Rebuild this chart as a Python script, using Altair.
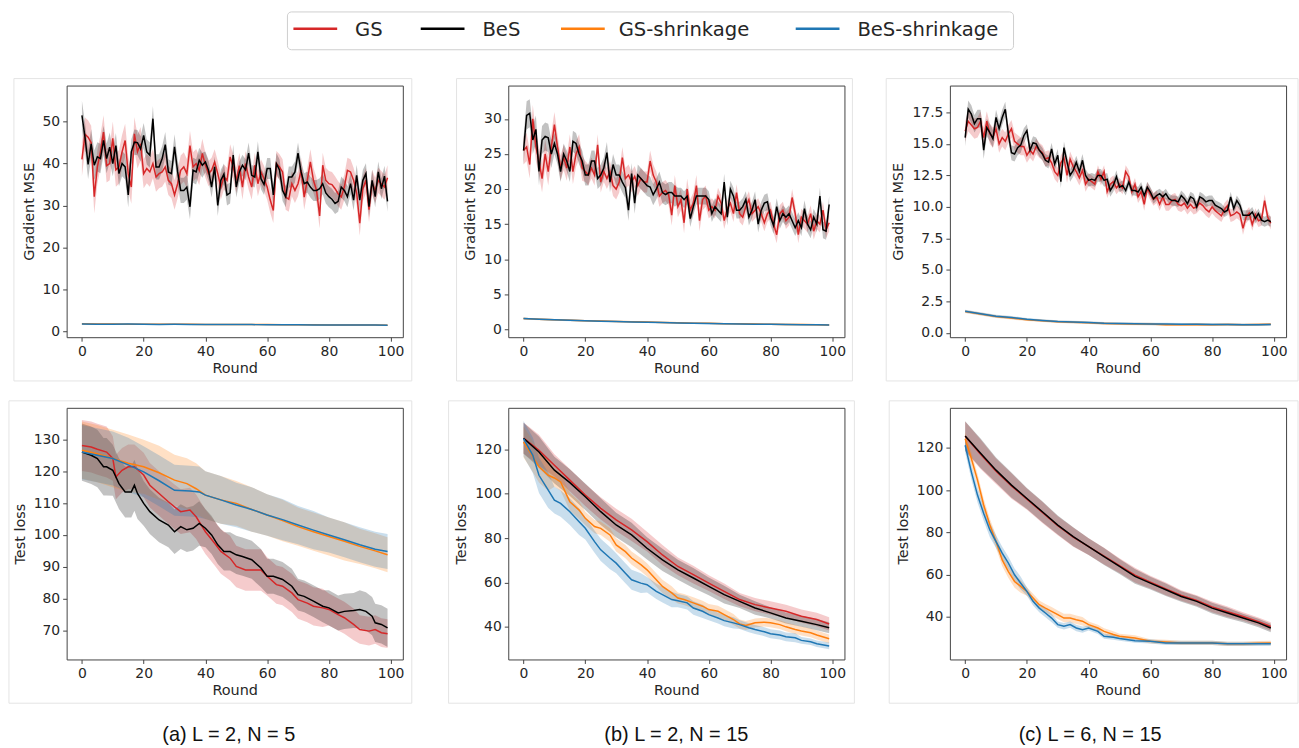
import altair as alt
import pandas as pd

# ---------------- data ----------------
SERIES = ["GS", "BeS", "GS-shrinkage", "BeS-shrinkage"]
COLORS = ["#d62728", "#000000", "#ff7f0e", "#1f77b4"]
CAPTIONS = ["(a) L = 2, N = 5", "(b) L = 2, N = 15", "(c) L = 6, N = 15"]
Y_TITLES = ["Gradient MSE", "Test loss"]
X_TICKS = [0, 20, 40, 60, 80, 100]

ROUNDS = list(range(100))
R5 = [0, 5, 10, 15, 20, 25, 30, 35, 40, 45, 50, 55, 60, 65, 70, 75, 80, 85, 90, 95, 99]

# --- top row: gradient MSE ---
A1_GS = [41.0, 47.0, 46.3, 45.0, 32.1, 39.2, 42.8, 47.5, 39.5, 40.0,
         46.0, 38.5, 39.2, 42.8, 45.5, 37.6, 34.4, 47.1, 42.8, 44.7,
         37.6, 38.8, 38.0, 40.0, 36.8, 37.6, 38.0, 39.2, 36.0, 35.2,
         32.5, 35.2, 38.4, 39.2, 37.6, 44.3, 39.2, 40.0, 38.4, 42.4,
         39.6, 37.6, 38.4, 40.4, 37.6, 34.4, 36.8, 36.0, 41.6, 39.2,
         36.0, 39.5, 34.4, 40.0, 36.8, 34.4, 39.6, 35.2, 38.0, 36.4,
         34.4, 31.3, 28.8, 40.0, 39.2, 38.0, 32.0, 31.5, 35.2, 33.6,
         35.2, 38.4, 32.0, 36.0, 40.4, 36.0, 33.6, 27.5, 39.6, 36.0,
         35.2, 35.0, 34.0, 32.8, 32.0, 34.4, 38.4, 38.0, 36.0, 33.0,
         25.8, 34.0, 36.0, 29.0, 35.5, 33.6, 36.0, 35.2, 34.4, 36.6]
A1_BES = [51.5, 46.3, 39.8, 44.7, 39.6, 41.6, 41.2, 45.5, 41.2, 43.9,
          40.0, 44.3, 37.6, 40.0, 39.2, 32.5, 42.8, 45.1, 45.0, 43.5,
          46.7, 42.8, 42.0, 50.7, 39.2, 39.2, 41.2, 44.5, 38.0, 37.6,
          44.0, 38.0, 33.6, 33.6, 34.4, 29.7, 38.4, 38.0, 40.8, 39.6,
          40.4, 38.4, 34.4, 39.2, 30.0, 36.0, 37.5, 32.5, 33.0, 42.0,
          34.4, 38.0, 39.6, 38.5, 42.5, 37.2, 36.8, 42.8, 36.4, 35.0,
          38.8, 38.8, 32.5, 40.0, 38.5, 33.6, 32.1, 36.8, 36.8, 38.0,
          42.5, 38.0, 35.2, 35.6, 34.4, 33.6, 33.6, 34.0, 35.2, 33.0,
          32.1, 31.5, 30.5, 31.0, 34.4, 33.6, 32.1, 35.2, 31.3, 37.2,
          31.3, 36.0, 37.6, 29.7, 36.0, 32.1, 38.0, 34.0, 37.0, 31.0]
A1_GSS = [1.80, 1.75, 1.75, 1.70, 1.70, 1.70, 1.68, 1.68, 1.65, 1.65, 1.62,
          1.60, 1.60, 1.58, 1.55, 1.55, 1.52, 1.50, 1.50, 1.48, 1.45]
A1_BESS = [1.75, 1.70, 1.70, 1.72, 1.70, 1.65, 1.68, 1.65, 1.62, 1.62, 1.60,
           1.60, 1.58, 1.55, 1.55, 1.52, 1.50, 1.50, 1.50, 1.48, 1.45]

B1_GS = [25.5, 26.0, 23.5, 30.0, 26.0, 24.0, 21.5, 25.0, 22.5, 26.0,
         29.2, 26.0, 23.0, 24.5, 23.0, 26.0, 22.5, 25.0, 26.0, 23.0,
         22.5, 22.0, 23.0, 22.0, 26.3, 21.0, 22.5, 21.5, 22.5, 20.5,
         20.0, 21.0, 24.5, 21.5, 22.0, 21.0, 21.8, 20.5, 21.5, 21.0,
         21.0, 24.0, 22.0, 21.0, 19.0, 19.5, 19.8, 19.2, 16.3, 20.5,
         17.5, 18.5, 15.2, 20.0, 17.0, 18.0, 20.5, 15.5, 18.5, 19.0,
         17.0, 17.5, 17.0, 19.0, 18.0, 15.5, 17.2, 18.0, 16.5, 19.5,
         16.5, 16.0, 17.5, 18.5, 16.5, 17.0, 17.5, 16.5, 15.2, 16.5,
         17.0, 15.0, 13.5, 16.5, 17.0, 15.5, 16.0, 18.8, 16.5, 13.5,
         16.0, 15.5, 15.0, 16.5, 14.0, 15.5, 15.0, 17.0, 14.2, 15.2]
B1_BES = [25.5, 30.5, 30.8, 27.0, 28.5, 22.5, 27.0, 27.5, 27.3, 25.0,
          26.5, 25.0, 22.5, 25.0, 24.0, 22.5, 26.8, 26.5, 25.0, 24.0,
          22.0, 22.0, 24.0, 24.0, 21.5, 22.0, 23.0, 25.2, 21.0, 23.5,
          22.0, 22.0, 21.0, 20.2, 17.0, 22.2, 18.0, 22.0, 21.5, 21.0,
          20.5, 20.3, 19.2, 20.0, 21.0, 19.5, 19.2, 19.5, 19.5, 19.0,
          19.0, 19.0, 18.5, 19.0, 15.8, 17.5, 19.0, 19.0, 19.0, 19.0,
          18.5, 16.5, 17.5, 17.0, 16.5, 21.0, 16.0, 20.0, 19.0, 17.0,
          17.0, 17.5, 18.5, 16.0, 17.0, 18.5, 15.0, 17.0, 18.0, 18.2,
          16.0, 14.8, 17.5, 15.5, 16.5, 16.0, 16.5, 15.5, 14.5, 15.5,
          14.5, 17.2, 15.0, 14.2, 16.0, 15.0, 19.0, 14.2, 14.0, 17.8]
B1_GSS = [1.55, 1.45, 1.38, 1.32, 1.25, 1.20, 1.15, 1.10, 1.05, 1.00, 0.95,
          0.90, 0.87, 0.83, 0.80, 0.77, 0.74, 0.72, 0.70, 0.67, 0.65]
B1_BESS = [1.55, 1.47, 1.38, 1.30, 1.24, 1.18, 1.13, 1.08, 1.02, 0.98, 0.93,
           0.89, 0.85, 0.82, 0.79, 0.76, 0.73, 0.71, 0.69, 0.67, 0.65]

C1_GS = [16.0, 16.8, 16.5, 16.2, 16.3, 16.8, 15.5, 16.8, 15.8, 15.5,
         16.2, 15.0, 15.5, 15.2, 15.8, 16.2, 15.2, 15.0, 14.8, 14.8,
         14.1, 14.5, 14.2, 14.8, 14.5, 14.3, 13.8, 13.9, 13.5, 12.8,
         12.5, 13.5, 13.9, 12.5, 13.8, 13.2, 12.8, 12.3, 12.9, 11.8,
         12.2, 12.0, 11.8, 12.8, 12.2, 12.8, 11.2, 11.8, 12.0, 11.5,
         11.8, 11.5, 12.8, 12.4, 11.2, 11.8, 10.8, 11.2, 10.2, 11.5,
         11.0, 10.6, 10.8, 10.2, 10.8, 10.2, 10.2, 10.5, 10.6, 10.2,
         10.1, 10.3, 9.9, 10.2, 9.9, 10.0, 10.3, 10.1, 9.8, 9.6,
         10.0, 9.7, 9.5, 9.3, 9.8, 10.1, 9.3, 9.4, 9.6, 9.4,
         8.3, 9.2, 9.5, 8.6, 9.4, 8.9, 9.0, 10.5, 9.2, 8.7]
C1_BES = [15.5, 17.75, 17.36, 16.6, 17.0, 17.0, 14.5, 16.3, 15.9, 15.4,
          17.1, 16.2, 17.1, 17.75, 15.8, 14.3, 14.2, 14.7, 14.9, 15.65,
          16.05, 14.5, 15.1, 15.0, 14.5, 14.2, 13.7, 13.55, 14.6, 13.4,
          14.1, 12.0, 14.7, 13.55, 12.5, 12.9, 13.55, 12.8, 13.7, 12.5,
          12.1, 12.2, 12.1, 12.5, 12.5, 12.1, 12.2, 11.3, 11.7, 12.4,
          11.57, 11.7, 11.3, 11.97, 11.3, 11.3, 11.18, 11.57, 10.9, 11.57,
          11.18, 10.65, 10.9, 11.05, 10.8, 11.05, 10.65, 10.5, 10.5, 10.4,
          10.9, 10.65, 10.26, 10.8, 10.65, 10.0, 10.8, 10.65, 10.4, 10.5,
          10.5, 10.13, 10.0, 9.87, 9.6, 9.74, 10.8, 9.87, 10.5, 10.13,
          9.34, 9.34, 9.34, 9.6, 9.08, 9.47, 8.95, 8.82, 8.95, 8.82]
C1_GSS = [1.70, 1.50, 1.30, 1.18, 1.05, 0.97, 0.88, 0.85, 0.80, 0.75, 0.72,
          0.70, 0.70, 0.65, 0.65, 0.67, 0.65, 0.66, 0.65, 0.66, 0.68]
C1_BESS = [1.72, 1.52, 1.33, 1.22, 1.08, 0.98, 0.90, 0.87, 0.82, 0.76, 0.74,
           0.72, 0.70, 0.70, 0.68, 0.68, 0.66, 0.66, 0.65, 0.65, 0.67]

# --- bottom row: test loss ---
A2_GS_R = [0, 3, 5, 8, 10, 11, 13, 15, 17, 20, 22, 25, 28, 30, 32, 35, 37, 40, 43, 45,
           48, 50, 53, 55, 58, 60, 63, 65, 68, 70, 73, 75, 78, 80, 83, 85, 88, 90, 93, 95, 97, 99]
A2_GS = [128.1, 127.6, 126.9, 126.0, 124.0, 118.2, 120.3, 121.4, 121.4, 118.8,
         115.6, 113.0, 110.4, 108.8, 107.3, 107.8, 105.7, 101.0, 97.4, 94.8,
         92.7, 90.1, 89.0, 89.0, 89.0, 87.0, 84.4, 83.9, 81.8, 79.7,
         78.6, 77.6, 77.1, 76.6, 75.0, 74.0, 71.9, 70.3, 69.8, 70.3, 69.3, 69.0]
A2_BES_R = [0, 3, 5, 7, 8, 10, 12, 14, 16, 17, 18, 20, 22, 25, 28, 30, 32, 34, 36, 38,
            40, 42, 44, 46, 48, 50, 52, 55, 58, 60, 62, 65, 68, 70, 72, 75, 78, 80, 83, 85,
            88, 90, 92, 94, 95, 97, 99]
A2_BES = [126.0, 125.0, 124.0, 121.4, 121.4, 120.3, 116.1, 113.5, 113.5, 115.6,
          113.0, 109.9, 107.3, 104.7, 103.1, 101.0, 102.6, 101.6, 102.1, 103.6,
          102.1, 100.0, 96.9, 94.8, 94.8, 93.75, 93.2, 92.2, 89.6, 87.0,
          87.0, 86.0, 83.9, 81.25, 80.7, 79.2, 77.6, 77.1, 75.5, 76.0,
          76.3, 76.6, 76.0, 74.5, 72.4, 71.9, 70.8]
A2_GSS_R = [0, 5, 10, 15, 20, 25, 30, 34, 37, 40, 45, 50, 55, 60, 65, 70, 75, 80, 85, 90, 95, 99]
A2_GSS = [126.6, 125.5, 124.0, 122.5, 121.4, 119.5, 117.2, 116.1, 114.5, 112.5, 111.0,
          109.9, 108.0, 106.25, 104.5, 102.6, 101.0, 99.5, 98.0, 96.4, 95.0, 93.75]
A2_BESS_R = [0, 5, 10, 15, 20, 25, 30, 35, 38, 40, 45, 50, 55, 60, 65, 70, 75, 80, 85, 90, 95, 99]
A2_BESS = [126.0, 125.0, 124.0, 122.0, 119.8, 117.0, 114.0, 113.75, 113.5, 112.5, 111.0,
           109.4, 108.0, 106.25, 104.8, 103.1, 101.5, 100.0, 98.5, 96.9, 95.5, 94.8]

B2_GS = [125.1, 119.6, 112.8, 106.1, 99.4, 93.4, 88.2, 83.7, 78.4, 72.4, 67.2,
         63.5, 59.7, 56.0, 52.3, 50.0, 48.5, 47.0, 44.8, 43.3, 41.3]
B2_BES = [125.0, 118.8, 110.6, 105.0, 98.6, 91.9, 85.9, 81.4, 75.4, 70.2, 65.7,
          62.0, 58.2, 54.5, 51.5, 48.5, 46.3, 44.0, 42.5, 41.0, 39.6]
B2_GSS_R = [0, 2, 5, 8, 10, 12, 15, 18, 20, 23, 25, 28, 30, 33, 35, 38, 40, 43, 45, 48,
            50, 52, 55, 58, 60, 63, 65, 68, 70, 72, 75, 78, 80, 83, 85, 88, 90, 93, 95, 99]
B2_GSS = [123.3, 119.0, 112.1, 108.3, 107.1, 105.3, 96.4, 92.6, 88.9, 85.2,
          84.4, 81.4, 76.9, 73.9, 71.0, 68.0, 65.7, 61.2, 58.2, 55.3,
          53.0, 52.3, 50.8, 49.3, 47.8, 47.0, 45.5, 43.3, 41.3, 40.6,
          41.8, 42.1, 41.8, 41.0, 40.0, 38.8, 38.1, 37.3, 36.3, 34.6]
B2_BESS_R = [0, 3, 5, 8, 10, 12, 15, 18, 20, 23, 25, 28, 30, 33, 35, 38, 40, 43, 45, 48,
             50, 53, 55, 58, 60, 63, 65, 68, 70, 73, 75, 78, 80, 83, 85, 88, 90, 93, 95, 99]
B2_BESS = [124.8, 117.3, 108.3, 101.6, 97.1, 95.6, 91.9, 87.4, 84.4, 78.4,
           74.7, 71.0, 68.7, 64.2, 61.2, 59.7, 59.0, 56.0, 54.5, 52.3,
           51.8, 50.8, 48.5, 47.0, 45.5, 44.0, 42.8, 41.8, 41.0, 39.6,
           38.8, 37.8, 36.9, 36.3, 35.5, 35.1, 33.9, 33.3, 32.4, 31.4]

C2_GS = [125.5, 117.0, 109.0, 102.0, 95.8, 89.5, 83.2, 77.8, 73.3, 68.8, 64.3,
         59.8, 56.5, 53.3, 50.2, 47.8, 44.8, 42.5, 40.2, 37.8, 35.5]
C2_BES = [125.7, 117.5, 109.5, 102.4, 96.1, 89.8, 83.5, 78.0, 73.3, 68.6, 63.9,
          59.2, 56.0, 52.9, 49.7, 47.4, 44.2, 41.9, 39.5, 37.2, 34.8]
C2_S_R = [0, 2, 4, 6, 8, 10, 12, 14, 16, 18, 20, 22, 24, 26, 28, 30, 32, 34, 36, 38,
          40, 43, 45, 48, 50, 55, 60, 65, 70, 75, 80, 85, 90, 95, 99]
C2_GSS = [124.4, 115.0, 104.8, 93.0, 83.5, 75.7, 67.0, 61.5, 56.8, 54.5,
          52.1, 49.0, 45.8, 44.2, 42.7, 41.1, 39.5, 39.5, 38.7, 38.0,
          36.4, 34.8, 33.2, 31.7, 30.9, 30.1, 28.5, 28.2, 27.7, 27.7,
          27.7, 27.3, 27.3, 27.6, 27.7]
C2_BESS = [121.3, 108.7, 97.7, 89.0, 81.2, 75.7, 70.2, 65.5, 60.0, 56.0,
           52.1, 47.4, 44.2, 41.9, 39.5, 36.4, 35.6, 36.4, 34.8, 34.0,
           34.8, 33.2, 30.9, 30.4, 29.8, 28.8, 28.5, 27.7, 27.7, 27.7,
           27.7, 27.3, 27.3, 27.3, 27.3]

# band half-widths, read per 10-round block (rounds 0-9, 10-19, ..., 90-99)
HW_A1_GS = [4.0, 4.0, 3.5, 3.5, 3.0, 3.0, 3.0, 3.0, 3.0, 3.0]
HW_A1_BES = [3.5, 3.0, 3.0, 3.0, 2.5, 2.5, 2.5, 2.5, 2.5, 2.5]
HW_B1_GS = [2.0, 1.8, 1.5, 1.5, 1.5, 1.5, 1.2, 1.2, 1.2, 1.2]
HW_B1_BES = [2.0, 1.5, 1.5, 1.5, 1.5, 1.2, 1.2, 1.2, 1.2, 1.2]
HW_C1_GS = [0.8, 0.7, 0.6, 0.6, 0.5, 0.5, 0.5, 0.5, 0.5, 0.5]
HW_C1_BES = [0.7, 0.6, 0.5, 0.5, 0.5, 0.4, 0.4, 0.4, 0.4, 0.4]
HW_TOP_S = [0.12, 0.12, 0.1, 0.1, 0.1, 0.1, 0.1, 0.1, 0.1, 0.1]
HW_A2_GS = [8.0, 7.0, 7.0, 7.0, 7.0, 6.5, 6.0, 6.0, 5.0, 4.5]
HW_A2_BES = [9.0, 8.0, 7.0, 7.0, 6.0, 6.0, 5.5, 5.0, 5.5, 6.0]
HW_A2_GSS = [9.0, 9.0, 8.5, 8.0, 7.5, 7.0, 6.5, 6.0, 6.0, 5.5]
HW_A2_BESS = [8.5, 8.5, 8.0, 8.0, 7.5, 7.0, 6.5, 6.0, 5.5, 5.5]
HW_B2_GS = [7.0, 5.0, 5.0, 5.0, 4.5, 4.0, 3.5, 3.0, 3.0, 3.0]
HW_B2_BES = [7.0, 6.0, 6.0, 5.5, 5.0, 4.5, 4.0, 3.0, 2.5, 2.5]
HW_B2_GSS = [7.0, 4.0, 3.0, 3.0, 3.0, 2.5, 2.5, 2.0, 2.0, 2.0]
HW_B2_BESS = [8.0, 6.0, 5.0, 4.5, 3.5, 3.0, 2.5, 2.0, 2.0, 1.5]
HW_C2_GS = [7.0, 6.0, 5.0, 4.5, 4.0, 3.5, 3.0, 2.5, 2.5, 2.0]
HW_C2_BES = [7.0, 6.0, 5.0, 4.5, 4.0, 3.5, 3.0, 2.5, 2.5, 2.0]
HW_C2_GSS = [3.0, 3.0, 2.0, 2.0, 1.5, 1.2, 1.0, 1.0, 1.0, 1.0]
HW_C2_BESS = [3.5, 3.0, 2.0, 1.5, 1.2, 1.0, 1.0, 1.0, 1.0, 1.0]

# ---------------- layout / style ----------------
W, H = 338, 253
X_DOMAIN = [-4.95, 103.95]
FONT = "DejaVu Sans"
TXT = "#262626"
# legend geometry, relative to the plot origin of the top-middle panel
LEG_BOX = (-222, 508, -74, -36)
LEG_LINE_X = [-216, -88, 53, 289]
LEG_LINE_LEN = 44
LEG_TEXT_X = [-154, -26, 111, 351]
LEG_Y = -57
LEG_FONT_SIZE = 19.7


def build_df(spec):
    rows = []
    for name, rounds, vals, hw in spec:
        for r, v in zip(rounds, vals):
            h = hw[min(r // 10, 9)]
            rows.append({"round": r, "value": v, "lo": v - h, "hi": v + h, "series": name})
    return pd.DataFrame(rows)


def legend_layers():
    one = pd.DataFrame({"k": [0]})
    bx0, bx1, by0, by1 = LEG_BOX
    layers = [alt.Chart(one).mark_rect(
        fill="white", stroke="#cfcfcf", strokeWidth=1, cornerRadius=4
    ).encode(x=alt.value(bx0), x2=alt.value(bx1), y=alt.value(by0), y2=alt.value(by1))]
    for name, col, lx, tx in zip(SERIES, COLORS, LEG_LINE_X, LEG_TEXT_X):
        d = pd.DataFrame({"series": [name]})
        layers.append(alt.Chart(d).mark_rule(color=col, strokeWidth=2.5).encode(
            x=alt.value(lx), x2=alt.value(lx + LEG_LINE_LEN), y=alt.value(LEG_Y)))
        layers.append(alt.Chart(d).mark_text(
            font=FONT, fontSize=LEG_FONT_SIZE, color=TXT, align="left", baseline="middle"
        ).encode(text="series:N", x=alt.value(tx), y=alt.value(LEG_Y + 1)))
    return layers


def panel(spec, ydom, yticks, ytitle, yfmt, frame, caption=None, cap_x=0, legend=False):
    df = build_df(spec)
    base = alt.Chart(df)
    xenc = alt.X("round:Q", scale=alt.Scale(domain=X_DOMAIN, nice=False, zero=False),
                 axis=alt.Axis(values=X_TICKS, title="Round", titlePadding=3, labelFlush=False))
    yaxis = alt.Axis(values=yticks, title=ytitle, format=yfmt, titlePadding=6, labelFlush=False)
    yscale = alt.Scale(domain=ydom, nice=False, zero=False)
    cscale = alt.Scale(domain=SERIES, range=COLORS)
    band = base.mark_area(opacity=0.24, clip=True).encode(
        x=xenc,
        y=alt.Y("lo:Q", scale=yscale, axis=yaxis),
        y2="hi:Q",
        fill=alt.Fill("series:N", scale=cscale, legend=None),
        detail="series:N",
    )
    line = base.mark_line(strokeWidth=1.5, clip=True).encode(
        x=xenc,
        y=alt.Y("value:Q", scale=yscale, axis=yaxis),
        color=alt.Color("series:N", scale=cscale, legend=None),
        detail="series:N",
    )
    fx0, fx1, fy0, fy1 = frame
    box = alt.Chart(pd.DataFrame({"k": [0]})).mark_rect(
        fillOpacity=0, stroke="#e4e4e4", strokeWidth=1
    ).encode(x=alt.value(fx0), x2=alt.value(fx1), y=alt.value(fy0), y2=alt.value(fy1))
    layers = [box, band, line]
    if caption is not None:
        cap = alt.Chart(pd.DataFrame({"t": [caption]})).mark_text(
            font="Liberation Sans", fontSize=20, color="#111111", baseline="middle", align="center"
        ).encode(text="t:N", x=alt.value(cap_x), y=alt.value(329))
        layers.append(cap)
    if legend:
        layers += legend_layers()
    return alt.layer(*layers).properties(width=W, height=H)


S = SERIES
panels = [
    panel([(S[0], ROUNDS, A1_GS, HW_A1_GS), (S[1], ROUNDS, A1_BES, HW_A1_BES),
           (S[2], R5, A1_GSS, HW_TOP_S), (S[3], R5, A1_BESS, HW_TOP_S)],
          [-1.4, 58.6], [0, 10, 20, 30, 40, 50], Y_TITLES[0], "d", (-53, 347, -7, 297)),
    panel([(S[0], ROUNDS, B1_GS, HW_B1_GS), (S[1], ROUNDS, B1_BES, HW_B1_BES),
           (S[2], R5, B1_GSS, HW_TOP_S), (S[3], R5, B1_BESS, HW_TOP_S)],
          [-1.1, 34.75], [0, 5, 10, 15, 20, 25, 30], Y_TITLES[0], "d", (-52, 346, -7, 297),
          legend=True),
    panel([(S[0], ROUNDS, C1_GS, HW_C1_GS), (S[1], ROUNDS, C1_BES, HW_C1_BES),
           (S[2], R5, C1_GSS, HW_TOP_S), (S[3], R5, C1_BESS, HW_TOP_S)],
          [-0.34, 19.63], [0, 2.5, 5, 7.5, 10, 12.5, 15, 17.5], Y_TITLES[0], ".1f",
          (-64, 350, -7, 297)),
    panel([(S[0], A2_GS_R, A2_GS, HW_A2_GS), (S[1], A2_BES_R, A2_BES, HW_A2_BES),
           (S[2], A2_GSS_R, A2_GSS, HW_A2_GSS), (S[3], A2_BESS_R, A2_BESS, HW_A2_BESS)],
          [60.9, 139.9], [70, 80, 90, 100, 110, 120, 130], Y_TITLES[1], "d",
          (-58, 347, -7, 297), CAPTIONS[0], 163),
    panel([(S[0], R5, B2_GS, HW_B2_GS), (S[1], R5, B2_BES, HW_B2_BES),
           (S[2], B2_GSS_R, B2_GSS, HW_B2_GSS), (S[3], B2_BESS_R, B2_BESS, HW_B2_BESS)],
          [25.3, 138.7], [40, 60, 80, 100, 120], Y_TITLES[1], "d",
          (-60, 348, -7, 297), CAPTIONS[1], 169),
    panel([(S[0], R5, C2_GS, HW_C2_GS), (S[1], R5, C2_BES, HW_C2_BES),
           (S[2], C2_S_R, C2_GSS, HW_C2_GSS), (S[3], C2_S_R, C2_BESS, HW_C2_BESS)],
          [19.9, 139.0], [40, 60, 80, 100, 120], Y_TITLES[1], "d",
          (-61, 350, -7, 297), CAPTIONS[2], 141),
]

chart = (
    alt.concat(*panels, columns=3, spacing={"row": 71, "column": 106}, bounds="flush")
    .resolve_scale(color="shared", fill="shared")
    .properties(padding={"left": 8, "top": 9, "right": 0, "bottom": 0})
    .configure(background="white")
    .configure_view(stroke="#444444", strokeWidth=1)
    .configure_axis(
        labelFontSize=14, labelFont=FONT, labelColor=TXT,
        titleFontSize=14.5, titleFont=FONT, titleFontWeight="normal", titleColor=TXT,
        grid=False, domain=False, tickSize=4, tickColor="#444444", tickWidth=1,
        labelPadding=3,
    )
)

chart.save("out.html", embed_options={"renderer": "svg", "actions": False})
